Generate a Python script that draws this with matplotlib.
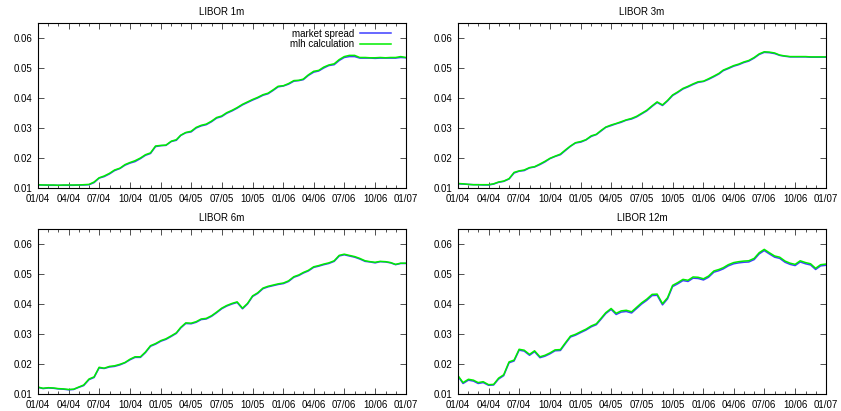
import numpy as np
import matplotlib as mpl
mpl.use("Agg")
import matplotlib.pyplot as plt
import matplotlib.dates as mdates
from matplotlib.ticker import FixedLocator
import datetime as dt

mpl.rcParams.update({"font.family": ["Liberation Sans", "DejaVu Sans"], "font.size": 7})

# semi-monthly sampling dates (1st and 16th), Jan 2004 .. Jan 2007
dates = []
for y in (2004, 2005, 2006):
    for m in range(1, 13):
        dates.append(dt.date(y, m, 1))
        dates.append(dt.date(y, m, 16))
dates.append(dt.date(2007, 1, 1))

titles = ["LIBOR 1m", "LIBOR 3m", "LIBOR 6m", "LIBOR 12m"]

mkt_1m = [0.0110, 0.0110, 0.0109, 0.0109, 0.0109, 0.0109, 0.0109, 0.0109, 0.0110, 0.0110,
          0.0111, 0.0118, 0.0133, 0.0138, 0.0147, 0.0158, 0.0165, 0.0176, 0.0183, 0.0188,
          0.0198, 0.0209, 0.0215, 0.0238, 0.0241, 0.0242, 0.0255, 0.0259, 0.0275, 0.0284,
          0.0287, 0.0300, 0.0307, 0.0311, 0.0321, 0.0333, 0.0338, 0.0349, 0.0357, 0.0366,
          0.0377, 0.0385, 0.0393, 0.0400, 0.0409, 0.0414, 0.0425, 0.0437, 0.0440, 0.0446,
          0.0456, 0.0458, 0.0461, 0.0475, 0.0486, 0.0490, 0.0500, 0.0508, 0.0511, 0.0525,
          0.0535, 0.0538, 0.0538, 0.0533, 0.0533, 0.0533, 0.0532, 0.0533, 0.0533, 0.0533,
          0.0533, 0.0535, 0.0534]
mlh_1m = [0.0111, 0.0110, 0.0110, 0.0110, 0.0109, 0.0110, 0.0110, 0.0110, 0.0110, 0.0111,
          0.0112, 0.0120, 0.0134, 0.0140, 0.0149, 0.0160, 0.0166, 0.0178, 0.0185, 0.0191,
          0.0200, 0.0211, 0.0217, 0.0240, 0.0242, 0.0243, 0.0256, 0.0261, 0.0276, 0.0285,
          0.0289, 0.0302, 0.0309, 0.0313, 0.0323, 0.0335, 0.0340, 0.0351, 0.0359, 0.0368,
          0.0379, 0.0387, 0.0395, 0.0402, 0.0411, 0.0416, 0.0427, 0.0439, 0.0441, 0.0448,
          0.0458, 0.0459, 0.0463, 0.0477, 0.0489, 0.0492, 0.0503, 0.0510, 0.0514, 0.0528,
          0.0538, 0.0542, 0.0542, 0.0535, 0.0535, 0.0534, 0.0534, 0.0535, 0.0534, 0.0535,
          0.0535, 0.0538, 0.0535]

mkt_3m = [0.0114, 0.0113, 0.0112, 0.0111, 0.0111, 0.0110, 0.0110, 0.0113, 0.0119, 0.0122,
          0.0130, 0.0150, 0.0156, 0.0158, 0.0167, 0.0170, 0.0178, 0.0187, 0.0198, 0.0205,
          0.0211, 0.0225, 0.0239, 0.0250, 0.0253, 0.0260, 0.0272, 0.0278, 0.0289, 0.0302,
          0.0308, 0.0314, 0.0319, 0.0326, 0.0330, 0.0337, 0.0347, 0.0357, 0.0372, 0.0385,
          0.0375, 0.0390, 0.0408, 0.0418, 0.0430, 0.0437, 0.0445, 0.0452, 0.0455, 0.0462,
          0.0471, 0.0480, 0.0491, 0.0498, 0.0506, 0.0511, 0.0518, 0.0523, 0.0533, 0.0545,
          0.0552, 0.0551, 0.0548, 0.0542, 0.0539, 0.0537, 0.0537, 0.0537, 0.0537, 0.0536,
          0.0536, 0.0536, 0.0536]
mlh_3m = [0.0115, 0.0114, 0.0112, 0.0111, 0.0111, 0.0111, 0.0111, 0.0114, 0.0120, 0.0123,
          0.0131, 0.0152, 0.0157, 0.0160, 0.0168, 0.0171, 0.0180, 0.0189, 0.0199, 0.0206,
          0.0213, 0.0227, 0.0240, 0.0251, 0.0255, 0.0261, 0.0274, 0.0279, 0.0291, 0.0303,
          0.0310, 0.0315, 0.0321, 0.0327, 0.0332, 0.0339, 0.0349, 0.0359, 0.0374, 0.0387,
          0.0377, 0.0392, 0.0410, 0.0420, 0.0432, 0.0439, 0.0447, 0.0454, 0.0456, 0.0464,
          0.0473, 0.0482, 0.0493, 0.0500, 0.0508, 0.0513, 0.0520, 0.0525, 0.0535, 0.0547,
          0.0554, 0.0553, 0.0550, 0.0543, 0.0540, 0.0538, 0.0538, 0.0538, 0.0538, 0.0537,
          0.0537, 0.0537, 0.0537]

mkt_6m = [0.0122, 0.0118, 0.0120, 0.0119, 0.0117, 0.0116, 0.0114, 0.0115, 0.0122, 0.0128,
          0.0148, 0.0155, 0.0187, 0.0185, 0.0190, 0.0192, 0.0197, 0.0204, 0.0214, 0.0222,
          0.0222, 0.0238, 0.0259, 0.0266, 0.0276, 0.0282, 0.0292, 0.0302, 0.0320, 0.0335,
          0.0334, 0.0339, 0.0348, 0.0350, 0.0359, 0.0371, 0.0384, 0.0393, 0.0400, 0.0405,
          0.0384, 0.0400, 0.0425, 0.0435, 0.0451, 0.0457, 0.0461, 0.0465, 0.0468, 0.0475,
          0.0489, 0.0495, 0.0503, 0.0510, 0.0522, 0.0526, 0.0531, 0.0535, 0.0542, 0.0560,
          0.0564, 0.0560, 0.0556, 0.0550, 0.0542, 0.0540, 0.0537, 0.0541, 0.0540, 0.0537,
          0.0531, 0.0535, 0.0535]
mlh_6m = [0.0123, 0.0119, 0.0121, 0.0120, 0.0118, 0.0117, 0.0115, 0.0116, 0.0123, 0.0130,
          0.0150, 0.0157, 0.0189, 0.0186, 0.0192, 0.0194, 0.0199, 0.0205, 0.0216, 0.0224,
          0.0224, 0.0240, 0.0261, 0.0268, 0.0278, 0.0284, 0.0294, 0.0304, 0.0322, 0.0337,
          0.0336, 0.0341, 0.0350, 0.0352, 0.0361, 0.0373, 0.0386, 0.0395, 0.0402, 0.0407,
          0.0386, 0.0402, 0.0427, 0.0437, 0.0453, 0.0459, 0.0463, 0.0467, 0.0470, 0.0477,
          0.0491, 0.0497, 0.0505, 0.0512, 0.0524, 0.0528, 0.0533, 0.0537, 0.0544, 0.0562,
          0.0566, 0.0562, 0.0558, 0.0552, 0.0544, 0.0541, 0.0539, 0.0542, 0.0541, 0.0538,
          0.0532, 0.0536, 0.0536]

mkt_12m = [0.0159, 0.0135, 0.0146, 0.0143, 0.0135, 0.0138, 0.0129, 0.0130, 0.0150, 0.0161,
           0.0204, 0.0210, 0.0246, 0.0243, 0.0229, 0.0241, 0.0221, 0.0226, 0.0234, 0.0244,
           0.0245, 0.0268, 0.0290, 0.0296, 0.0305, 0.0313, 0.0324, 0.0331, 0.0348, 0.0368,
           0.0382, 0.0365, 0.0373, 0.0375, 0.0370, 0.0385, 0.0400, 0.0412, 0.0428, 0.0429,
           0.0397, 0.0417, 0.0458, 0.0467, 0.0478, 0.0475, 0.0486, 0.0485, 0.0480, 0.0489,
           0.0506, 0.0511, 0.0517, 0.0527, 0.0534, 0.0537, 0.0539, 0.0540, 0.0548, 0.0567,
           0.0578, 0.0567, 0.0556, 0.0552, 0.0539, 0.0532, 0.0528, 0.0540, 0.0534, 0.0530,
           0.0515, 0.0527, 0.0529]
mlh_12m = [0.0161, 0.0138, 0.0149, 0.0146, 0.0138, 0.0141, 0.0131, 0.0132, 0.0153, 0.0164,
           0.0207, 0.0213, 0.0249, 0.0246, 0.0232, 0.0244, 0.0224, 0.0229, 0.0237, 0.0247,
           0.0248, 0.0271, 0.0293, 0.0299, 0.0308, 0.0316, 0.0327, 0.0334, 0.0351, 0.0371,
           0.0385, 0.0369, 0.0377, 0.0379, 0.0374, 0.0389, 0.0404, 0.0416, 0.0432, 0.0433,
           0.0401, 0.0421, 0.0462, 0.0471, 0.0482, 0.0479, 0.0490, 0.0489, 0.0484, 0.0493,
           0.0510, 0.0515, 0.0521, 0.0531, 0.0538, 0.0541, 0.0543, 0.0544, 0.0552, 0.0571,
           0.0582, 0.0571, 0.0560, 0.0556, 0.0543, 0.0536, 0.0532, 0.0544, 0.0538, 0.0534,
           0.0519, 0.0531, 0.0533]

market = [mkt_1m, mkt_3m, mkt_6m, mkt_12m]
mlh = [mlh_1m, mlh_3m, mlh_6m, mlh_12m]

BLUE, GREEN = "#3f3fff", "#00ee00"
fig = plt.figure(figsize=(8.41, 4.11), dpi=100)
W, H = 0.4376, 0.4015
pos = [(0.0452, 0.5426), (0.5446, 0.5426), (0.0452, 0.0414), (0.5446, 0.0414)]

major = [dt.date(2004 + (3 * i) // 12, (3 * i) % 12 + 1, 1) for i in range(13)]
minor = [dt.date(2004 + i // 12, i % 12 + 1, 1) for i in range(37)]

for i in range(4):
    ax = fig.add_axes([pos[i][0], pos[i][1], W, H])
    ax.plot(dates, market[i], color=BLUE, lw=1.1, label="market spread")
    ax.plot(dates, mlh[i], color=GREEN, lw=1.1, label="mlh calculation")
    ax.set_xlim(dt.date(2004, 1, 1), dt.date(2007, 1, 1))
    ax.set_ylim(0.01, 0.065)
    ax.set_yticks([0.01, 0.02, 0.03, 0.04, 0.05, 0.06])
    ax.set_yticklabels(["0.01", "0.02", "0.03", "0.04", "0.05", "0.06"])
    ax.xaxis.set_major_locator(FixedLocator(mdates.date2num(major)))
    ax.xaxis.set_minor_locator(FixedLocator(mdates.date2num(minor)))
    ax.xaxis.set_major_formatter(mdates.DateFormatter("%m/%y"))
    ax.tick_params(which="both", direction="in", top=True, right=True, labelsize=7,
                   width=0.6, color="#333333")
    ax.tick_params(axis="x", which="major", pad=4)
    ax.tick_params(axis="y", which="major", pad=4)
    ax.tick_params(which="major", length=4)
    ax.tick_params(which="minor", length=2)
    for s in ax.spines.values():
        s.set_linewidth(0.8)
    ax.set_title(titles[i], fontsize=7, pad=5.5)
    if i == 0:
        ax.legend(loc="upper right", frameon=False, markerfirst=False, fontsize=7,
                  handlelength=3.2, handletextpad=0.6, labelspacing=0.05,
                  borderaxespad=0.2, bbox_to_anchor=(0.975, 1.0))

fig.savefig("out.png", dpi=100)
